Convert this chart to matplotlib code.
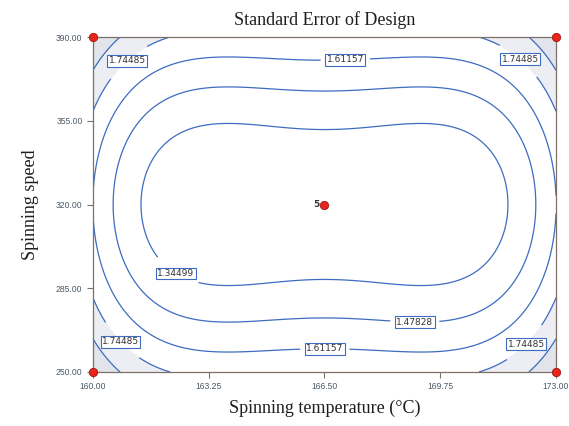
import numpy as np
import matplotlib
matplotlib.use("Agg")
import matplotlib.pyplot as plt

# design runs in coded units (rotatable CCD, 5 centre points)
run_a = [-1, 1, -1, 1, -1.414, 1.414, 0, 0, 0, 0, 0, 0, 0]
run_b = [-1, -1, 1, 1, 0, 0, -1.414, 1.414, 0, 0, 0, 0, 0]
sigma = 3.411

# factor ranges (actual units)
temp_low, temp_high = 160.0, 173.0
speed_low, speed_high = 250.0, 390.0

contour_levels = [1.34499, 1.47828, 1.61157, 1.74485, 1.87814]
x_ticks = [160.00, 163.25, 166.50, 169.75, 173.00]
y_ticks = [250.00, 285.00, 320.00, 355.00, 390.00]

# design points shown on this slice
pt_temp = [160.0, 173.0, 160.0, 173.0, 166.5]
pt_speed = [250.0, 250.0, 390.0, 390.0, 320.0]

# label spots (data units) for each contour level
label_spots = {
    1.34499: [(162.44, 293.9)],
    1.47828: [(169.04, 273.4)],
    1.61157: [(167.08, 382.5), (166.51, 261.3)],
    1.74485: [(161.07, 378.3), (171.85, 378.3), (161.04, 266.3), (171.85, 266.3)],
}

line_col = '#3d6cc0'
axis_col = '#7d7068'
tick_col = '#4d5a68'


def model_terms(a, b):
    # intercept, A, B, A^2
    return np.stack([np.ones_like(a), a, b, a * a], axis=-1)


def std_error(temp, speed):
    a_d = np.array(run_a, dtype=float)
    b_d = np.array(run_b, dtype=float)
    X = model_terms(a_d, b_d)
    xtx_inv = np.linalg.inv(X.T @ X)
    ca = (temp - (temp_low + temp_high) / 2) / ((temp_high - temp_low) / 2)
    cb = (speed - (speed_low + speed_high) / 2) / ((speed_high - speed_low) / 2)
    F = model_terms(ca, cb)
    v = np.einsum('...i,ij,...j->...', F, xtx_inv, F)
    return sigma * np.sqrt(v)


fig = plt.figure(figsize=(5.69, 4.26), dpi=100)
ax = fig.add_axes([0.1634, 0.1268, 0.8137, 0.7863])

tt, ss = np.meshgrid(np.linspace(temp_low, temp_high, 300),
                     np.linspace(speed_low, speed_high, 300))
se = std_error(tt, ss)

ax.contourf(tt, ss, se, levels=[0, 1.74485, 1.87814, 10],
            colors=['white', '#eceef3', '#e1e4ea'])

for lev in contour_levels:
    cs = ax.contour(tt, ss, se, levels=[lev], colors=line_col,
                    linewidths=0.9)
    if lev not in label_spots:
        continue
    texts = ax.clabel(cs, inline=True, fmt='%.5f', fontsize=6.5,
                      colors='#333333', manual=label_spots[lev],
                      inline_spacing=6)
    for t in texts:
        t.set_rotation(0)
        t.set_bbox(dict(boxstyle='square,pad=0.15', fc='white',
                        ec=line_col, lw=0.8))

ax.plot(pt_temp, pt_speed, 'o', ms=6, color='#e8251a', mec='#a01818',
        mew=0.6, clip_on=False, zorder=5)
ax.text(166.5 - 0.15, 320, '5', ha='right', va='center', fontsize=6.5,
        fontweight='bold', color='#333333', zorder=6)

ax.set_xlim(temp_low, temp_high)
ax.set_ylim(speed_low, speed_high)
ax.set_xticks(x_ticks)
ax.set_yticks(y_ticks)
ax.set_xticklabels(['%.2f' % v for v in x_ticks], family='Liberation Sans')
ax.set_yticklabels(['%.2f' % v for v in y_ticks], family='Liberation Sans')
ax.tick_params(labelsize=6.2, labelcolor=tick_col, color=axis_col,
               length=4, width=0.8, direction='out')
for sp in ax.spines.values():
    sp.set_color(axis_col)
    sp.set_linewidth(0.9)

serif = {'family': 'Liberation Serif', 'color': '#1e1e1e', 'size': 13}
ax.set_title('Standard Error of Design', fontdict=serif, pad=9)
ax.set_xlabel('Spinning temperature (\u00b0C)', fontdict=serif, labelpad=6)
ax.set_ylabel('Spinning speed', fontdict=serif, labelpad=12)

fig.savefig('out.png', dpi=100, facecolor='white')
